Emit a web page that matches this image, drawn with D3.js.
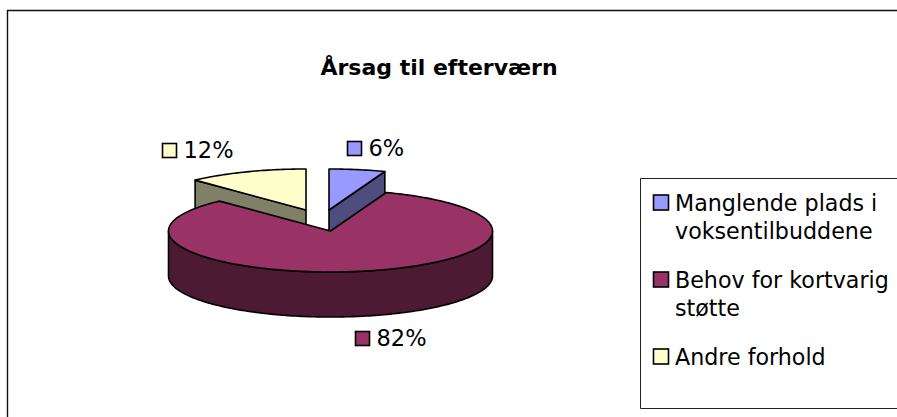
<!DOCTYPE html>
<html>
<head>
<meta charset="utf-8">
<script src="https://cdn.jsdelivr.net/npm/d3@7"></script>
<style>
  html, body { margin: 0; padding: 0; background: #fff; }
  svg { display: block; }
  text { font-family: "DejaVu Sans", Verdana, sans-serif; fill: #000; }
</style>
</head>
<body>
<div id="chart"></div>
<script>
const categories = ["Manglende plads i voksentilbuddene", "Behov for kortvarig støtte", "Andre forhold"];
const values = [5.6, 82.4, 12];
const valueLabels = ["6%", "82%", "12%"];
const legendLines = [["Manglende plads i", "voksentilbuddene"], ["Behov for kortvarig", "støtte"], ["Andre forhold"]];
const topColors = ["#9999ff", "#993366", "#ffffcc"];
const sideColors = ["#4d4d80", "#4d1a33", "#808066"];
const title = "Årsag til efterværn";

const width = 897, height = 417;
const rx = 162, ry = 41, depth = 45;
const centers = [[329, 210], [330.5, 231], [306, 210]];
const labelPos = [[347, 156], [355, 346], [162, 158]];

const svg = d3.select("#chart").append("svg")
    .attr("width", width)
    .attr("height", height);

// outer frame, runs off the right and bottom of the picture
svg.append("path")
    .attr("d", "M7.5," + height + "V10.5H" + width)
    .attr("fill", "none")
    .attr("stroke", "#111")
    .attr("stroke-width", 1.4);

svg.append("text")
    .text(title)
    .attr("x", 439)
    .attr("y", 75)
    .attr("text-anchor", "middle")
    .attr("font-weight", "bold")
    .attr("font-size", 22);

let slices = d3.pie().sort(null).value(d => d)(values);
let line = d3.line();

function pt(c, a, dy) {
    return [c[0] + rx * Math.sin(a), c[1] - ry * Math.cos(a) + dy];
}

function rim(c, a0, a1, dy) {
    let n = Math.max(2, Math.ceil((a1 - a0) / 0.02));
    return d3.range(n + 1).map(i => pt(c, a0 + (a1 - a0) * i / n, dy));
}

function drawSlice(i) {
    let s = slices[i], c = centers[i];
    let g = svg.append("g")
        .attr("stroke", "#000")
        .attr("stroke-width", 1.6)
        .attr("stroke-linejoin", "round");

    // right hand cut face of the slice, seen only when it ends before the front
    if (s.endAngle < Math.PI / 2) {
        g.append("path")
            .attr("d", line([[c[0], c[1]], pt(c, s.endAngle, 0), pt(c, s.endAngle, depth), [c[0], c[1] + depth]]) + "Z")
            .attr("fill", sideColors[i]);
    }
    // left hand cut face
    if (s.startAngle > 3 * Math.PI / 2) {
        g.append("path")
            .attr("d", line([[c[0], c[1]], pt(c, s.startAngle, 0), pt(c, s.startAngle, depth), [c[0], c[1] + depth]]) + "Z")
            .attr("fill", sideColors[i]);
    }
    // outer wall along the front of the ellipse
    let a0 = Math.max(s.startAngle, Math.PI / 2), a1 = Math.min(s.endAngle, 3 * Math.PI / 2);
    if (a1 > a0) {
        g.append("path")
            .attr("d", line(rim(c, a0, a1, 0).concat(rim(c, a0, a1, depth).reverse())) + "Z")
            .attr("fill", sideColors[i]);
    }
    g.append("path")
        .attr("d", line([c].concat(rim(c, s.startAngle, s.endAngle, 0))) + "Z")
        .attr("fill", topColors[i]);
}

// back slices first, the big one sits in front of them
drawSlice(0);
drawSlice(2);
drawSlice(1);

valueLabels.forEach(function (t, i) {
    svg.append("rect")
        .attr("x", labelPos[i][0] + 0.5)
        .attr("y", labelPos[i][1] - 14.5)
        .attr("width", 14)
        .attr("height", 14)
        .attr("fill", topColors[i])
        .attr("stroke", "#000")
        .attr("stroke-width", 1.6);
    svg.append("text")
        .text(t)
        .attr("x", labelPos[i][0] + 21.5)
        .attr("y", labelPos[i][1])
        .attr("font-size", 22.5);
});

// legend
svg.append("path")
    .attr("d", "M" + width + ",178.5H640.5V408.5H" + width)
    .attr("fill", "#fff")
    .attr("stroke", "#222");

let legendY = [211, 288, 365];
legendLines.forEach(function (lines, i) {
    svg.append("rect")
        .attr("x", 653.5)
        .attr("y", legendY[i] - 16)
        .attr("width", 15)
        .attr("height", 15)
        .attr("fill", topColors[i])
        .attr("stroke", "#000")
        .attr("stroke-width", 1.6);
    lines.forEach(function (t, j) {
        svg.append("text")
            .text(t)
            .attr("x", 675)
            .attr("y", legendY[i] + j * 28)
            .attr("font-size", 22.2);
    });
});
</script>
</body>
</html>
